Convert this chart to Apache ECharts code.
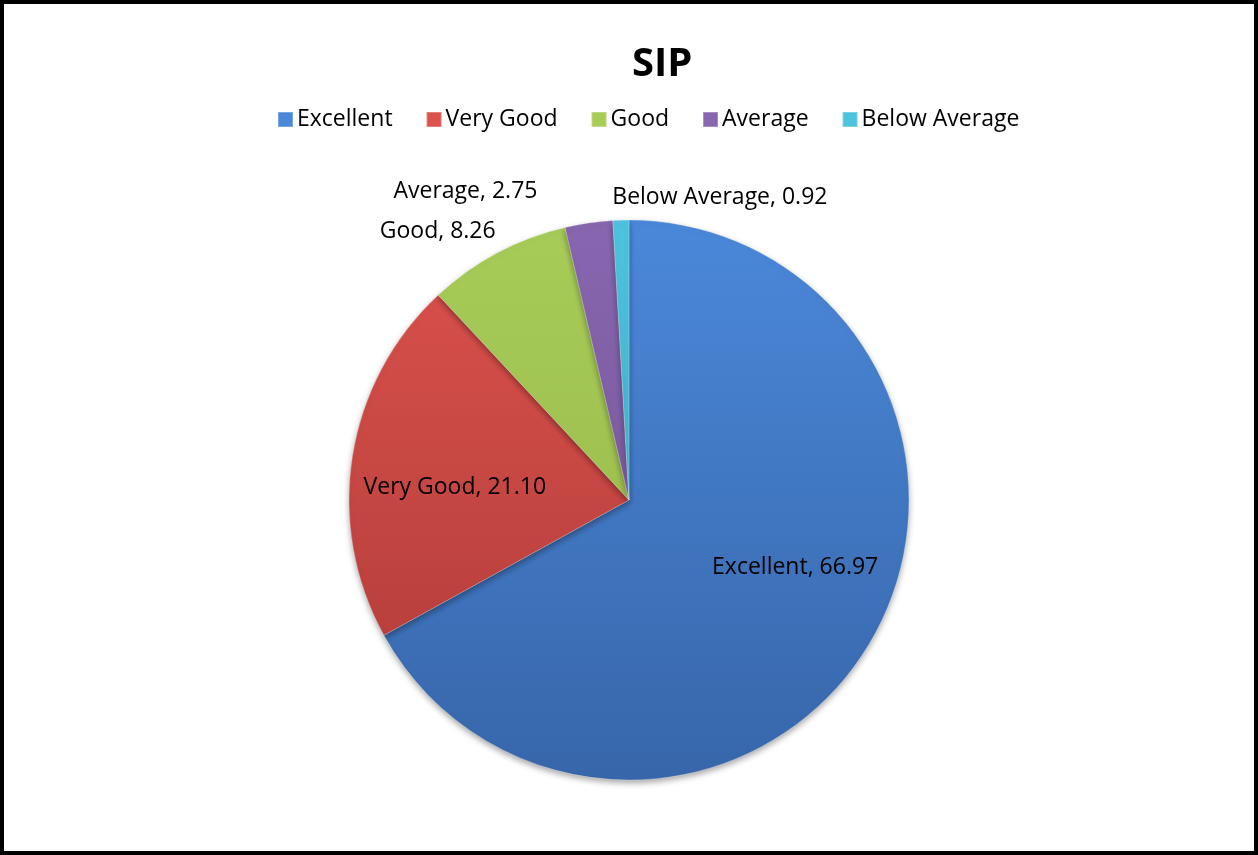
<!DOCTYPE html>
<html>
<head>
<meta charset="utf-8">
<script src="https://cdn.jsdelivr.net/npm/echarts@6/dist/echarts.min.js"></script>
<style>
  html, body { margin: 0; padding: 0; background: #fff; }
  #chart { width: 1258px; height: 855px; }
  #frame { position: absolute; left: 0; top: 0; width: 1258px; height: 855px;
           box-sizing: border-box; border: 4px solid #000; pointer-events: none; }
</style>
</head>
<body>
<div id="chart"></div>
<div id="frame"></div>
<script>
  // SIP rating shares
  const categories = ['Excellent', 'Very Good', 'Good', 'Average', 'Below Average']
  const values = [66.97, 21.10, 8.26, 2.75, 0.92]

  // top / bottom shades for each slice
  const topColors = ['#4b88d9', '#dc524d', '#a8cc58', '#8966b0', '#4ec3de']
  const bottomColors = ['#3766aa', '#ad3a37', '#93b548', '#6d5190', '#3d9fba']

  // where each label sits, relative to the slice's own label point
  const labelOffsets = [[43, -5], [-33, 10], [-124, -142], [-143, -167], [95, -160]]

  const shade = (i) => ({
    type: 'linear', x: 0, y: 220, x2: 0, y2: 780, global: true,
    colorStops: [
      { offset: 0, color: topColors[i] },
      { offset: 1, color: bottomColors[i] }
    ]
  })

  const chart = echarts.init(document.getElementById('chart'))
  chart.setOption({
    animation: false,
    textStyle: { fontFamily: 'Open Sans' },
    title: {
      text: 'SIP',
      left: 627,
      top: 40,
      textStyle: { fontSize: 40, fontWeight: 'bold', color: '#000', fontFamily: 'Open Sans' }
    },
    legend: {
      top: 103,
      left: 272,
      icon: 'rect',
      itemWidth: 15,
      itemHeight: 15,
      itemGap: 33,
      textStyle: { fontSize: 23, color: '#000', fontFamily: 'Open Sans', padding: [0, 0, 0, -1] },
      data: categories
    },
    series: [{
      type: 'pie',
      center: [629, 500],
      radius: 280,
      startAngle: 90,
      clockwise: true,
      avoidLabelOverlap: false,
      itemStyle: {
        borderColor: 'rgba(255,255,255,0.25)',
        borderWidth: 1,
        shadowBlur: 6,
        shadowOffsetY: 3,
        shadowColor: 'rgba(0,0,0,0.35)'
      },
      label: {
        position: 'inside',
        color: '#000',
        fontSize: 23,
        fontFamily: 'Open Sans',
        formatter: (p) => p.name + ', ' + p.value.toFixed(2)
      },
      labelLine: { show: false },
      emphasis: { disabled: true },
      data: categories.map((name, i) => ({
        name,
        value: values[i],
        itemStyle: { color: shade(i) },
        label: { offset: labelOffsets[i] }
      }))
    }]
  })
</script>
</body>
</html>
